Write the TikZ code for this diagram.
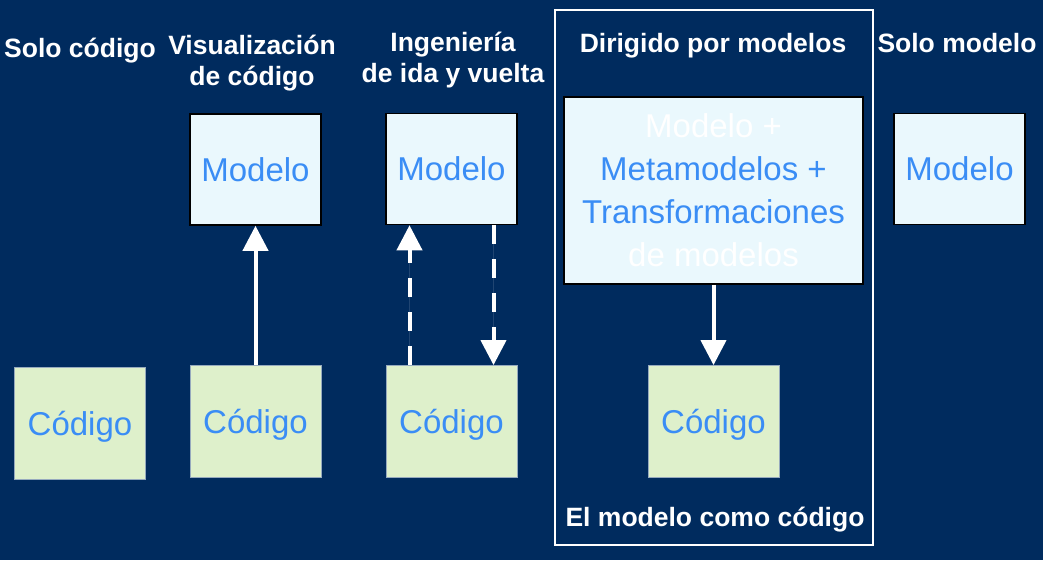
\documentclass[tikz,border=0pt]{standalone}
\usepackage{fontspec}
\setmainfont{Liberation Sans}
\usetikzlibrary{arrows.meta}
\definecolor{bg}{RGB}{0,43,94}
\definecolor{modfill}{RGB}{234,248,253}
\definecolor{codfill}{RGB}{222,240,203}
\definecolor{lbl}{RGB}{58,141,245}
\definecolor{codborder}{RGB}{150,170,190}
\tikzset{
  title/.style={text=white, font=\fontsize{26.5}{31.5}\selectfont\bfseries, align=center, inner sep=0pt},
  modbox/.style={draw=black, line width=1.5pt, fill=modfill, text=lbl, font=\fontsize{33}{43}\selectfont, align=center, inner sep=0pt, minimum width=131pt, minimum height=111pt},
  codbox/.style={draw=codborder, line width=0.8pt, fill=codfill, text=lbl, font=\fontsize{33}{43}\selectfont, align=center, inner sep=0pt, text depth=0pt, minimum width=131pt, minimum height=112pt},
  arr/.style={draw=white, line width=4pt, -{Triangle[width=25pt,length=25pt]}, fill=white},
  darr/.style={arr, dash pattern=on 19pt off 15pt},
}
\begin{document}
\begin{tikzpicture}[x=1pt,y=-1pt]
\useasboundingbox[fill=bg] (0,0) rectangle (1043,560);
% frame
\node[draw=white, line width=2pt, minimum width=318pt, minimum height=535pt, inner sep=0pt] (frame) at (714,277.5) {};
% titles
\node[title] (t1) at (80,51) {Solo código};
\node[title] (t2) at (252,63) {Visualización\\de código};
\node[title] (t3) at (453,60) {Ingeniería\\de ida y vuelta};
\node[title] (t4) at (713,46) {Dirigido por modelos};
\node[title] (t5) at (957,43) {Solo modelo};
\node[title] (t6) at (715,520) {El modelo como código};
% code boxes
\node[codbox] (c1) at (80,423) {Código};
\node[codbox] (c2) at (255.5,421.5) {Código};
\node[codbox] (c3) at (451.5,421.5) {Código};
\node[codbox] (c4) at (713.5,421.5) {Código};
% model boxes
\node[modbox] (m2) at (255.5,169.5) {Modelo};
\node[modbox] (m3) at (451.5,169) {Modelo};
\node[modbox] (m5) at (959.5,169) {Modelo};
\node[modbox, minimum width=299pt, minimum height=187pt] (m4) at (713.5,190.5) {\textcolor{white}{Modelo +}\\Metamodelos +\\Transformaciones\\\textcolor{white}{de modelos}};
% arrows
\draw[arr] (c2.north) -- (m2.south);
\draw[darr] ([xshift=-42pt]c3.north) -- ([xshift=-42pt]m3.south);
\draw[darr] ([xshift=42pt]m3.south) -- ([xshift=42pt]c3.north);
\draw[arr] (m4.south) -- (c4.north);
\end{tikzpicture}
\end{document}
